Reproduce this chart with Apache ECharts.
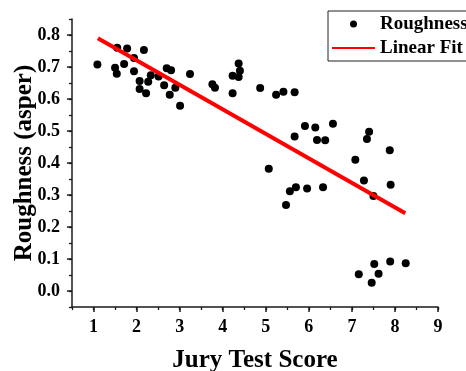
<!DOCTYPE html>
<html>
<head>
<meta charset="utf-8">
<script src="https://cdn.jsdelivr.net/npm/echarts@6/dist/echarts.min.js"></script>
<style>
  html, body { margin: 0; padding: 0; background: #fff; }
  #chart { width: 466px; height: 371px; }
</style>
</head>
<body>
<div id="chart"></div>
<script>
// jury test score vs roughness
const juryScore = [
  1.09, 1.55, 1.78, 1.50, 1.54, 1.71, 1.94, 2.17, 1.94, 2.07,
  2.07, 2.22, 2.27, 2.33, 2.51, 2.70, 2.80, 2.64, 2.90, 2.77,
  3.01, 3.24, 3.76, 3.82, 4.23, 4.37, 4.40, 4.37, 4.23, 4.87,
  5.24, 5.41, 5.67, 5.91, 6.15, 6.56, 5.67, 6.19, 6.38, 7.40,
  7.35, 7.88, 7.08, 5.07, 7.28, 7.90, 7.50, 5.56, 5.70, 5.96,
  6.33, 5.47, 7.16, 7.52, 7.62, 7.46, 7.89, 8.25
];
const roughness = [
  0.708, 0.760, 0.758, 0.698, 0.679, 0.709, 0.728, 0.753, 0.687, 0.656,
  0.631, 0.618, 0.654, 0.674, 0.670, 0.696, 0.690, 0.643, 0.635, 0.613,
  0.579, 0.678, 0.646, 0.635, 0.673, 0.711, 0.688, 0.669, 0.618, 0.634,
  0.613, 0.623, 0.621, 0.516, 0.511, 0.523, 0.483, 0.472, 0.471, 0.498,
  0.475, 0.440, 0.410, 0.382, 0.345, 0.332, 0.297, 0.312, 0.324, 0.320,
  0.324, 0.269, 0.052, 0.084, 0.054, 0.026, 0.092, 0.087
];
// ends of the fitted line
const fitX = [1.10, 8.24];
const fitY = [0.790, 0.243];

const xTicks = [1, 2, 3, 4, 5, 6, 7, 8, 9];
const yTicks = [0, 0.1, 0.2, 0.3, 0.4, 0.5, 0.6, 0.7, 0.8];

const font = "'Liberation Serif', 'Times New Roman', serif";
const ink = '#1a1a1a';

let chart = echarts.init(document.getElementById('chart'));

// integer ticks get a label, half steps only a tick
const isMajor = (v, list) => list.some(t => Math.abs(t - v) < 1e-6);

const xRange = { type: 'value', position: 'bottom', min: 0.5, max: 9, interval: 0.5 };
const yRange = { type: 'value', position: 'left', min: -0.05, max: 0.85, interval: 0.05 };

chart.setOption({
    animation: false,
    backgroundColor: '#fff',
    grid: { left: 72, right: 28, top: 19, bottom: 64, containLabel: false, outerBoundsMode: 'none' },
    xAxis: [
        Object.assign({}, xRange, {
            name: 'Jury Test Score',
            nameLocation: 'middle',
            nameGap: 41,
            nameMoveOverlap: false,
            nameTextStyle: { fontFamily: font, fontWeight: 'bold', fontSize: 25, color: '#000' },
            axisLine: { show: true, onZero: false, lineStyle: { color: ink, width: 1.5 } },
            axisTick: { show: true, inside: false, length: 3, lineStyle: { color: ink, width: 1.3 } },
            axisLabel: {
                show: true, margin: 11,
                formatter: v => isMajor(v, xTicks) ? String(Math.round(v)) : '',
                fontFamily: font, fontWeight: 'bold', fontSize: 18, color: '#000'
            },
            splitLine: { show: false }
        }),
        // longer ticks at the whole numbers
        Object.assign({}, xRange, {
            offset: 0,
            axisLine: { show: false, onZero: false },
            axisTick: { show: true, inside: false, length: 5, customValues: xTicks, lineStyle: { color: ink, width: 1.5 } },
            axisLabel: { show: false },
            splitLine: { show: false }
        })
    ],
    yAxis: [
        Object.assign({}, yRange, {
            name: 'Roughness (asper)',
            nameLocation: 'middle',
            nameGap: 35,
            nameMoveOverlap: false,
            nameTextStyle: { fontFamily: font, fontWeight: 'bold', fontSize: 25, color: '#000' },
            axisLine: { show: true, onZero: false, lineStyle: { color: ink, width: 1.5 } },
            axisTick: { show: true, inside: false, length: 3, lineStyle: { color: ink, width: 1.3 } },
            axisLabel: {
                show: true, margin: 12,
                formatter: v => isMajor(v, yTicks) ? v.toFixed(1) : '',
                fontFamily: font, fontWeight: 'bold', fontSize: 18, color: '#000'
            },
            splitLine: { show: false }
        }),
        Object.assign({}, yRange, {
            offset: 0,
            axisLine: { show: false, onZero: false },
            axisTick: { show: true, inside: false, length: 5, customValues: yTicks, lineStyle: { color: ink, width: 1.5 } },
            axisLabel: { show: false },
            splitLine: { show: false }
        })
    ],
    legend: {
        left: 328,
        top: 11,
        orient: 'vertical',
        itemWidth: 43,
        itemHeight: 7,
        itemGap: 2,
        padding: [2, 12, 2, 3],
        borderColor: '#222',
        borderWidth: 1,
        textStyle: { fontFamily: font, fontWeight: 'bold', fontSize: 19, lineHeight: 22, color: '#000' },
        data: [
            { name: 'Roughness', icon: 'circle' },
            { name: 'Linear Fit', itemStyle: { opacity: 0 } }
        ]
    },
    series: [
        {
            name: 'Roughness',
            type: 'scatter',
            symbol: 'circle',
            symbolSize: 8,
            itemStyle: { color: '#000', opacity: 1 },
            data: juryScore.map((x, i) => [x, roughness[i]])
        },
        {
            name: 'Linear Fit',
            type: 'line',
            symbol: 'none',
            lineStyle: { color: '#ff0000', width: 4 },
            itemStyle: { color: '#ff0000' },
            data: fitX.map((x, i) => [x, fitY[i]])
        }
    ]
});
</script>
</body>
</html>
